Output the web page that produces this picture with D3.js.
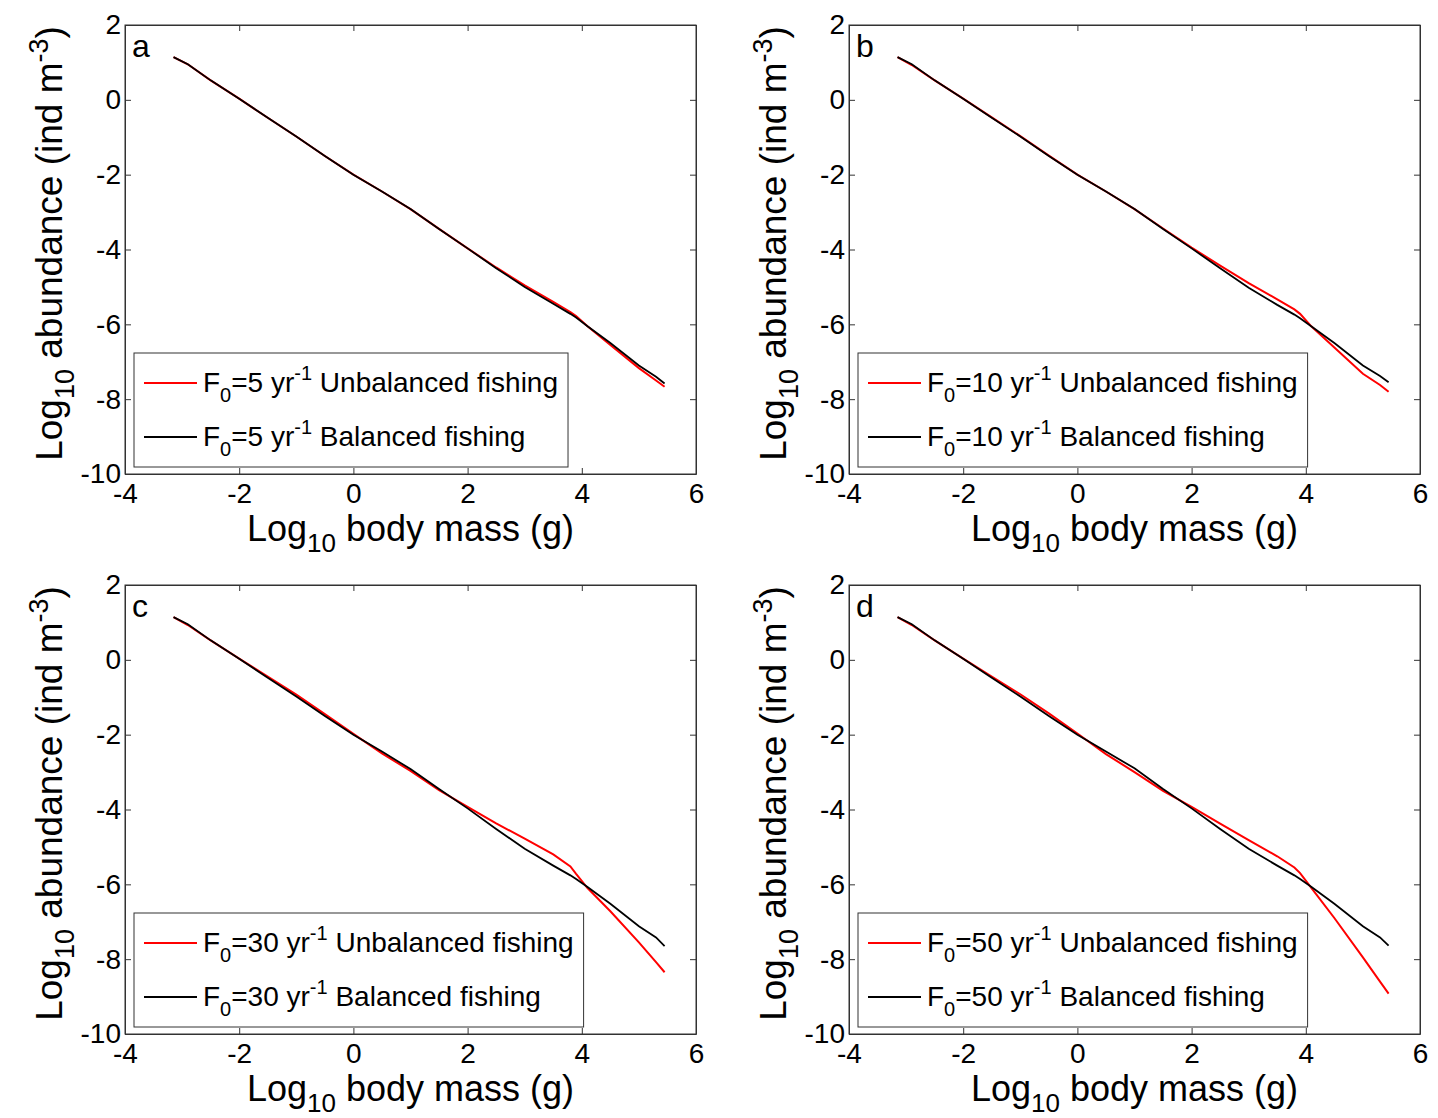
<!DOCTYPE html>
<html>
<head>
<meta charset="utf-8">
<script src="https://cdn.jsdelivr.net/npm/d3@7"></script>
<style>
  body { margin: 0; background: #fff; }
  svg { display: block; }
  text { font-family: "Liberation Sans", Arial, sans-serif; fill: #000; }
</style>
</head>
<body>
<div id="chart"></div>
<script>
// data: log10 body mass vs log10 abundance
const bodyMass = [-3.15, -2.9, -2.5, -2, -1.5, -1, -0.5, 0, 0.5, 1, 1.5, 2, 2.5, 3, 3.5, 3.8, 3.9, 4.1, 4.5, 5, 5.3, 5.45];

const balancedA = [1.14, 0.95, 0.52, 0.03, -0.48, -0.98, -1.5, -2.0, -2.45, -2.92, -3.45, -3.97, -4.5, -5.0, -5.45, -5.72, -5.82, -6.05, -6.5, -7.1, -7.4, -7.58];
const balancedB = [1.14, 0.95, 0.52, 0.03, -0.48, -0.98, -1.5, -2.0, -2.45, -2.92, -3.45, -3.97, -4.5, -5.02, -5.48, -5.74, -5.84, -6.06, -6.5, -7.1, -7.38, -7.55];
const balancedC = [1.14, 0.95, 0.52, 0.03, -0.48, -0.98, -1.5, -2.0, -2.45, -2.92, -3.45, -3.97, -4.52, -5.05, -5.5, -5.76, -5.86, -6.07, -6.52, -7.12, -7.42, -7.65];
const balancedD = [1.14, 0.95, 0.52, 0.03, -0.48, -0.98, -1.5, -2.0, -2.45, -2.9, -3.45, -3.97, -4.52, -5.05, -5.5, -5.76, -5.86, -6.07, -6.52, -7.12, -7.42, -7.64];

const unbalancedA = [1.14, 0.95, 0.52, 0.03, -0.48, -0.98, -1.5, -2.0, -2.45, -2.92, -3.45, -3.97, -4.48, -4.96, -5.4, -5.67, -5.78, -6.05, -6.55, -7.17, -7.5, -7.67];
const unbalancedB = [1.14, 0.93, 0.52, 0.03, -0.47, -0.97, -1.49, -2.0, -2.45, -2.92, -3.44, -3.95, -4.43, -4.9, -5.33, -5.6, -5.72, -6.06, -6.62, -7.32, -7.62, -7.8];
const unbalancedC = [1.14, 0.93, 0.52, 0.03, -0.45, -0.93, -1.45, -1.98, -2.5, -2.97, -3.48, -3.93, -4.37, -4.78, -5.2, -5.52, -5.72, -6.1, -6.72, -7.55, -8.08, -8.35];
const unbalancedD = [1.14, 0.93, 0.52, 0.03, -0.45, -0.92, -1.43, -1.97, -2.52, -3.0, -3.5, -3.93, -4.38, -4.82, -5.25, -5.55, -5.7, -6.1, -6.9, -7.95, -8.6, -8.92];

const fishingRates = ["5", "10", "30", "50"];
const panelLetters = ["a", "b", "c", "d"];
const xTicks = [-4, -2, 0, 2, 4, 6];
const yTicks = [-10, -8, -6, -4, -2, 0, 2];

const width = 1438, height = 1118;

const svg = d3.select("#chart").append("svg")
    .attr("width", width)
    .attr("height", height);

// panel boxes (left, top)
const boxes = [
    { left: 125, top: 25 },
    { left: 849, top: 25 },
    { left: 125, top: 585 },
    { left: 849, top: 585 }
];
const plotW = 571, plotH = 449;

const seriesRed = [unbalancedA, unbalancedB, unbalancedC, unbalancedD];
const seriesBlack = [balancedA, balancedB, balancedC, balancedD];

boxes.forEach((b, i) => {
    const g = svg.append("g").attr("transform", `translate(${b.left},${b.top})`);

    const x = d3.scaleLinear().domain([-4, 6]).range([0, plotW]);
    const y = d3.scaleLinear().domain([-10, 2]).range([plotH, 0]);

    const fmt = d => String(d);

    // axes with inward ticks (matlab style)
    g.append("g").attr("class", "ax")
        .attr("transform", `translate(0,${plotH})`)
        .call(d3.axisBottom(x).tickValues(xTicks).tickFormat(fmt).tickSizeInner(-6).tickSizeOuter(0).tickPadding(9));
    g.append("g").attr("class", "ax")
        .call(d3.axisTop(x).tickValues(xTicks).tickFormat("").tickSizeInner(-6).tickSizeOuter(0));
    g.append("g").attr("class", "ax")
        .call(d3.axisLeft(y).tickValues(yTicks).tickFormat(fmt).tickSizeInner(-6).tickSizeOuter(0).tickPadding(4));
    g.append("g").attr("class", "ax")
        .attr("transform", `translate(${plotW},0)`)
        .call(d3.axisRight(y).tickValues(yTicks).tickFormat("").tickSizeInner(-6).tickSizeOuter(0));

    g.selectAll(".ax path").attr("stroke", "#333");
    g.selectAll(".ax line").attr("stroke", "#333");
    g.selectAll(".ax text")
        .style("font-family", '"Liberation Sans", Arial, sans-serif')
        .style("font-size", "28px")
        .attr("fill", "#000");

    g.append("rect")
        .attr("width", plotW).attr("height", plotH)
        .attr("fill", "none").attr("stroke", "#333").attr("stroke-width", 1);

    const line = d3.line()
        .x((d, k) => x(bodyMass[k]))
        .y(d => y(d));

    g.append("path").datum(seriesRed[i])
        .attr("d", line).attr("fill", "none")
        .attr("stroke", "#ff0000").attr("stroke-width", 2);
    g.append("path").datum(seriesBlack[i])
        .attr("d", line).attr("fill", "none")
        .attr("stroke", "#000").attr("stroke-width", 1.8);

    // panel letter
    g.append("text").attr("x", 7).attr("y", 32)
        .style("font-size", "32px").text(panelLetters[i]);

    // legend
    const leg = g.append("g").attr("transform", `translate(9,${plotH - 121})`);
    const legBox = leg.append("rect")
        .attr("height", 114).attr("fill", "#fff")
        .attr("stroke", "#333").attr("stroke-width", 1);
    const entries = [
        { color: "#ff0000", label: " Unbalanced fishing" },
        { color: "#000", label: " Balanced fishing" }
    ];
    let maxW = 0;
    entries.forEach((e, k) => {
        const cy = 30 + k * 54;
        leg.append("line")
            .attr("x1", 10).attr("x2", 63)
            .attr("y1", cy).attr("y2", cy)
            .attr("stroke", e.color).attr("stroke-width", 1.8);
        const t = leg.append("text")
            .attr("x", 69).attr("y", cy + 9)
            .style("font-size", "28px");
        t.append("tspan").text("F");
        t.append("tspan").attr("dy", 10).style("font-size", "20px").text("0");
        t.append("tspan").attr("dy", -10).text("=" + fishingRates[i] + " yr");
        t.append("tspan").attr("dy", -12).style("font-size", "20px").text("-1");
        t.append("tspan").attr("dy", 12).text(e.label);
        maxW = Math.max(maxW, t.node().getComputedTextLength());
    });
    legBox.attr("width", 69 + maxW + 10);

    // x axis label
    const xl = g.append("text")
        .attr("x", plotW / 2).attr("y", plotH + 67)
        .attr("text-anchor", "middle")
        .style("font-size", "36px");
    xl.append("tspan").text("Log");
    xl.append("tspan").attr("dy", 11).style("font-size", "26px").text("10");
    xl.append("tspan").attr("dy", -11).text(" body mass (g)");

    // y axis label
    const yl = g.append("text")
        .attr("transform", `translate(-63,${plotH / 2 - 6}) rotate(-90)`)
        .attr("text-anchor", "middle")
        .style("font-size", "37px");
    yl.append("tspan").text("Log");
    yl.append("tspan").attr("dy", 12).style("font-size", "27px").text("10");
    yl.append("tspan").attr("dy", -12).text(" abundance (ind m");
    yl.append("tspan").attr("dy", -14).style("font-size", "27px").text("-3");
    yl.append("tspan").attr("dy", 14).text(")");
});
</script>
</body>
</html>
